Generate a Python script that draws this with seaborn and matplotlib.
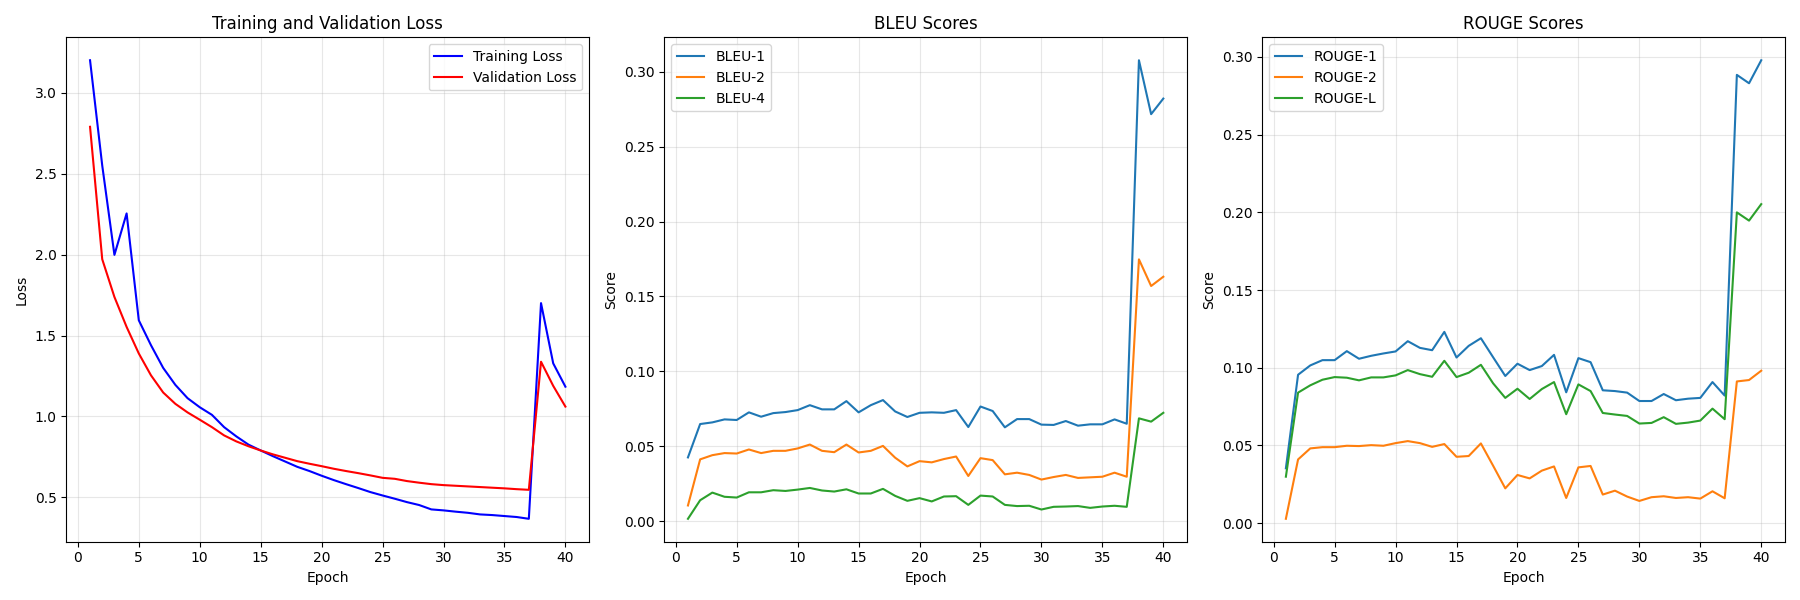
import numpy as np
import pandas as pd
import matplotlib
matplotlib.use("Agg")
import matplotlib.pyplot as plt
import seaborn as sns

epochs = list(range(1, 41))

train_loss = [3.20, 2.55, 1.998, 2.254, 1.594, 1.44, 1.30, 1.195, 1.113, 1.057,
              1.01, 0.934, 0.877, 0.826, 0.790, 0.755, 0.722, 0.689, 0.663, 0.634,
              0.607, 0.582, 0.558, 0.533, 0.512, 0.492, 0.471, 0.453, 0.426, 0.420,
              0.412, 0.405, 0.395, 0.391, 0.385, 0.379, 0.368, 1.70, 1.328, 1.184]
val_loss = [2.789, 1.971, 1.738, 1.553, 1.389, 1.254, 1.148, 1.078, 1.025, 0.980,
            0.934, 0.883, 0.846, 0.816, 0.790, 0.766, 0.745, 0.724, 0.708, 0.693,
            0.677, 0.663, 0.650, 0.636, 0.621, 0.615, 0.601, 0.591, 0.582, 0.576,
            0.572, 0.568, 0.564, 0.560, 0.556, 0.551, 0.547, 1.338, 1.189, 1.061]

bleu1 = [0.0425, 0.0648, 0.0659, 0.0679, 0.0675, 0.0726, 0.0697, 0.0721, 0.0728, 0.0741,
         0.0774, 0.0746, 0.0746, 0.0801, 0.0726, 0.0774, 0.0808, 0.0732, 0.0695, 0.0723,
         0.0726, 0.0723, 0.0741, 0.0628, 0.0765, 0.0735, 0.0626, 0.0681, 0.0681, 0.0644,
         0.0642, 0.0668, 0.0637, 0.0646, 0.0646, 0.0679, 0.0650, 0.3078, 0.2718, 0.2822]
bleu2 = [0.0104, 0.0412, 0.0440, 0.0454, 0.0451, 0.0478, 0.0454, 0.0469, 0.0469, 0.0485,
         0.0511, 0.0469, 0.0460, 0.0511, 0.0458, 0.0469, 0.0502, 0.0423, 0.0365, 0.0400,
         0.0392, 0.0414, 0.0431, 0.0301, 0.0420, 0.0407, 0.0312, 0.0323, 0.0308, 0.0277,
         0.0294, 0.0308, 0.0288, 0.0292, 0.0296, 0.0323, 0.0296, 0.1748, 0.1570, 0.1632]
bleu4 = [0.0015, 0.0139, 0.0190, 0.0162, 0.0157, 0.0192, 0.0192, 0.0206, 0.0201, 0.0210,
         0.0221, 0.0204, 0.0197, 0.0212, 0.0184, 0.0184, 0.0215, 0.0168, 0.0135, 0.0153,
         0.0131, 0.0164, 0.0166, 0.0108, 0.0170, 0.0164, 0.0108, 0.0100, 0.0102, 0.0077,
         0.0095, 0.0097, 0.0100, 0.0088, 0.0097, 0.0102, 0.0095, 0.0686, 0.0664, 0.0723]

rouge1 = [0.0353, 0.0955, 0.1015, 0.1049, 0.1049, 0.1107, 0.1058, 0.1077, 0.1092, 0.1105,
          0.1171, 0.1128, 0.1113, 0.1231, 0.1066, 0.1141, 0.1190, 0.1068, 0.0947, 0.1026,
          0.0985, 0.1011, 0.1083, 0.0842, 0.1062, 0.1036, 0.0855, 0.0850, 0.0840, 0.0786,
          0.0786, 0.0831, 0.0791, 0.0801, 0.0806, 0.0908, 0.0821, 0.2885, 0.2831, 0.2979]
rouge2 = [0.0028, 0.0410, 0.0481, 0.0489, 0.0489, 0.0498, 0.0496, 0.0502, 0.0498, 0.0515,
          0.0528, 0.0515, 0.0491, 0.0509, 0.0427, 0.0432, 0.0513, 0.0370, 0.0224, 0.0310,
          0.0288, 0.0338, 0.0365, 0.0162, 0.0359, 0.0368, 0.0184, 0.0209, 0.0171, 0.0143,
          0.0167, 0.0173, 0.0162, 0.0167, 0.0158, 0.0205, 0.0160, 0.0912, 0.0921, 0.0981]
rougeL = [0.0299, 0.0840, 0.0887, 0.0923, 0.0940, 0.0936, 0.0919, 0.0938, 0.0938, 0.0951,
          0.0985, 0.0959, 0.0942, 0.1045, 0.0940, 0.0968, 0.1019, 0.0900, 0.0806, 0.0865,
          0.0799, 0.0863, 0.0908, 0.0701, 0.0893, 0.0850, 0.0709, 0.0699, 0.0690, 0.0641,
          0.0645, 0.0682, 0.0639, 0.0647, 0.0660, 0.0737, 0.0669, 0.2000, 0.1947, 0.2053]

fig, axes = plt.subplots(1, 3, figsize=(18, 6), dpi=100)

# loss curves
ax = axes[0]
sns.lineplot(x=epochs, y=train_loss, ax=ax, color="blue", label="Training Loss")
sns.lineplot(x=epochs, y=val_loss, ax=ax, color="red", label="Validation Loss")
ax.set_title("Training and Validation Loss")
ax.set_xlabel("Epoch")
ax.set_ylabel("Loss")
ax.legend(loc="upper right")
ax.grid(True, alpha=0.3)

# BLEU
ax = axes[1]
for vals, name, c in [(bleu1, "BLEU-1", "tab:blue"), (bleu2, "BLEU-2", "tab:orange"),
                      (bleu4, "BLEU-4", "tab:green")]:
    sns.lineplot(x=epochs, y=vals, ax=ax, color=c, label=name)
ax.set_title("BLEU Scores")
ax.set_xlabel("Epoch")
ax.set_ylabel("Score")
ax.legend(loc="upper left")
ax.grid(True, alpha=0.3)

# ROUGE
ax = axes[2]
for vals, name, c in [(rouge1, "ROUGE-1", "tab:blue"), (rouge2, "ROUGE-2", "tab:orange"),
                      (rougeL, "ROUGE-L", "tab:green")]:
    sns.lineplot(x=epochs, y=vals, ax=ax, color=c, label=name)
ax.set_title("ROUGE Scores")
ax.set_xlabel("Epoch")
ax.set_ylabel("Score")
ax.legend(loc="upper left")
ax.grid(True, alpha=0.3)

plt.tight_layout()
plt.savefig("out.png", dpi=100)
